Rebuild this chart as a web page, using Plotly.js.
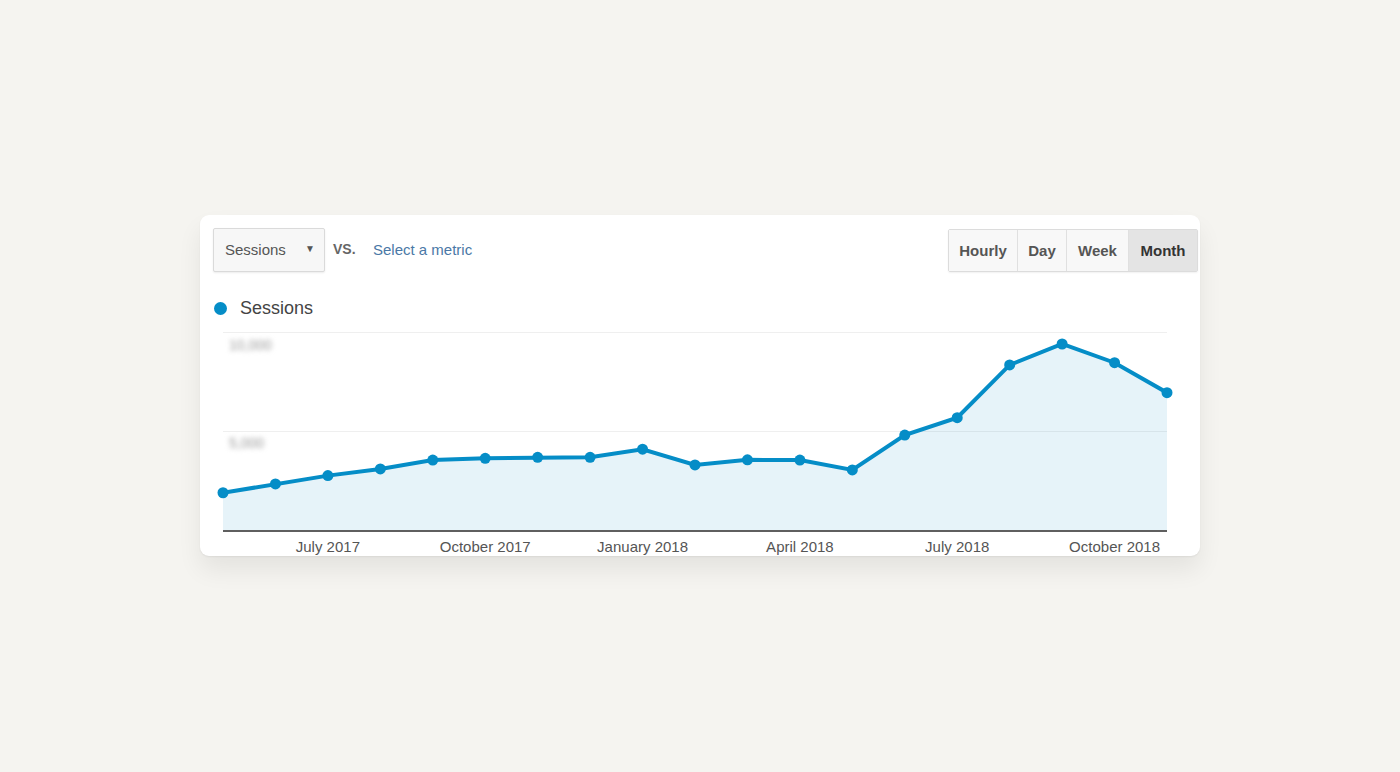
<!DOCTYPE html>
<html>
<head>
<meta charset="utf-8">
<script src="https://cdn.plot.ly/plotly-3.0.1.min.js"></script>
<style>
  html, body { margin:0; padding:0; width:1400px; height:772px; background:#f5f4f0; overflow:hidden; font-family: Arial, "Liberation Sans", sans-serif; }
  #card { position:absolute; left:200px; top:215px; width:1000px; height:341px; background:#fff; border-radius:9px;
          box-shadow: 0 14px 24px rgba(0,0,0,0.07), 0 1px 2px rgba(0,0,0,0.06); }
  .ctl { position:absolute; box-sizing:border-box; }
  #dd { left:213px; top:228px; width:112px; height:44px; border:1px solid #dadada; background:#f7f7f7; border-radius:2px;
        box-shadow: 0 1px 2px rgba(0,0,0,0.08); }
  #dd span.t { position:absolute; left:11px; top:12px; font-size:15px; color:#555; }
  #dd span.a { position:absolute; left:91px; top:14px; font-size:10px; color:#555; }
  #vs { left:333px; top:241px; font-size:14px; font-weight:bold; color:#666; }
  #sel { left:373px; top:241px; font-size:15px; color:#4a78a6; }
  #btns { left:948px; top:229px; height:43px; display:flex; border:1px solid #dcdcdc; border-radius:2px; box-shadow: 0 1px 2px rgba(0,0,0,0.06); }
  #btns div { height:41px; line-height:41px; text-align:center; font-size:15px; font-weight:bold; color:#555; background:#f8f8f8; border-right:1px solid #e0e0e0; box-sizing:border-box; }
  #btns div.on { background:#e4e4e4; color:#333; border-right:none; }
  #leg-dot { left:214px; top:302px; width:13px; height:13px; border-radius:50%; background:#058dc7; }
  #leg-txt { left:240px; top:298px; font-size:18px; color:#444; }
  #plot { position:absolute; left:0; top:0; width:1400px; height:772px; pointer-events:none; }
  #plot .ytick text { filter: blur(2.4px); }
</style>
</head>
<body>
<div id="card"></div>
<div class="ctl" id="dd"><span class="t">Sessions</span><span class="a">&#9660;</span></div>
<div class="ctl" id="vs">VS.</div>
<div class="ctl" id="sel">Select a metric</div>
<div class="ctl" id="btns">
  <div style="width:69px">Hourly</div>
  <div style="width:49px">Day</div>
  <div style="width:62px">Week</div>
  <div class="on" style="width:68px">Month</div>
</div>
<div class="ctl" id="leg-dot"></div>
<div class="ctl" id="leg-txt">Sessions</div>
<div id="plot"></div>
<script>
const months = ["May 2017","Jun 2017","Jul 2017","Aug 2017","Sep 2017","Oct 2017","Nov 2017","Dec 2017",
                "Jan 2018","Feb 2018","Mar 2018","Apr 2018","May 2018","Jun 2018","Jul 2018","Aug 2018",
                "Sep 2018","Oct 2018","Nov 2018"];
const sessions = [1890, 2340, 2760, 3100, 3550, 3640, 3690, 3690, 4100, 3300, 3560, 3550, 3050,
                  4820, 5700, 8380, 9440, 8490, 6970];
const xTickVals = ["Jul 2017","Oct 2017","Jan 2018","Apr 2018","Jul 2018","Oct 2018"];
const xTickText = ["July 2017","October 2017","January 2018","April 2018","July 2018","October 2018"];
const yTickVals = [5000, 10000];
const yTickText = ["5,000", "10,000"];

const trace = {
  x: months, y: sessions, type: "scatter", mode: "lines+markers", name: "Sessions",
  line: { color: "#058dc7", width: 4 },
  marker: { color: "#058dc7", size: 11 },
  fill: "tozeroy", fillcolor: "rgba(5,141,199,0.10)",
  cliponaxis: false, hoverinfo: "skip"
};
const layout = {
  width: 1400, height: 772,
  margin: { l: 223, r: 233, t: 330, b: 242 },
  paper_bgcolor: "rgba(0,0,0,0)", plot_bgcolor: "rgba(0,0,0,0)",
  showlegend: false,
  font: { family: "Arial, 'Liberation Sans', sans-serif" },
  xaxis: {
    type: "category", range: [0, 18], tickmode: "array", tickvals: xTickVals, ticktext: xTickText,
    showgrid: false, zeroline: false, showline: true, linecolor: "#5f5f5f", linewidth: 2,
    ticks: "", tickfont: { size: 15, color: "#555" }, ticklabelstandoff: 2, fixedrange: true
  },
  yaxis: {
    range: [0, 10150], tickmode: "array", tickvals: yTickVals, ticktext: yTickText,
    showgrid: true, gridcolor: "#efefef", gridwidth: 1, zeroline: false, showline: false,
    ticks: "", ticklabelposition: "inside", ticklabelshift: 12, ticklabelstandoff: 3,
    tickfont: { size: 14, color: "#999" }, fixedrange: true
  }
};
Plotly.newPlot("plot", [trace], layout, { displayModeBar: false, staticPlot: true });
</script>
</body>
</html>
